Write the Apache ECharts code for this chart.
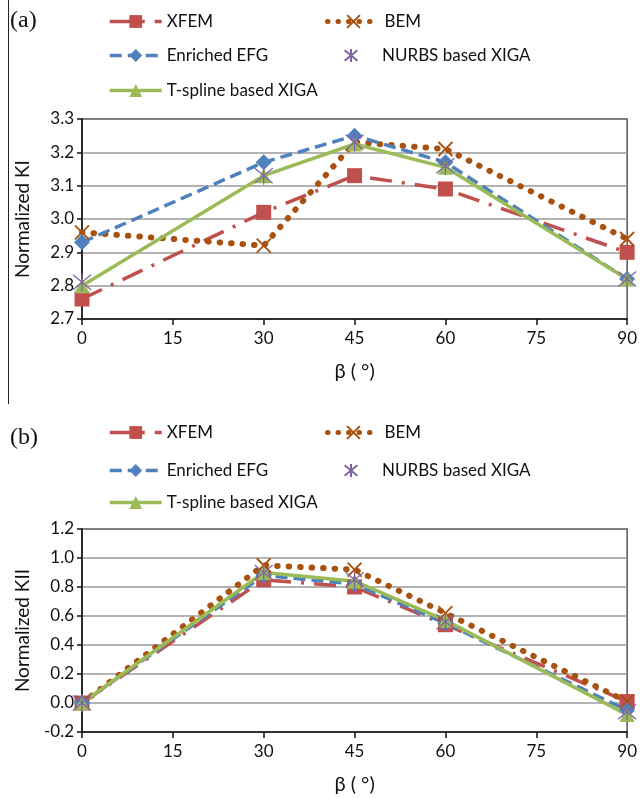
<!DOCTYPE html>
<html>
<head>
<meta charset="utf-8">
<script src="https://cdn.jsdelivr.net/npm/echarts@6/dist/echarts.min.js"></script>
<style>
  html, body { margin: 0; padding: 0; background: #fff; }
  #chart { width: 640px; height: 798px; }
</style>
</head>
<body>
<div id="chart"></div>
<script>
// crack inclination angle (degrees)
var beta = [0, 30, 45, 60, 90];

// (a) normalized KI
var kiXfem    = [2.76, 3.02, 3.13, 3.09, 2.90];
var kiBem     = [2.96, 2.92, 3.23, 3.21, 2.94];
var kiEfg     = [2.93, 3.17, 3.25, 3.17, 2.82];
var kiNurbs   = [2.81, 3.13, 3.23, 3.16, 2.82];
var kiTspline = [2.80, 3.13, 3.225, 3.155, 2.82];

// (b) normalized KII
var kiiXfem    = [0.00, 0.85, 0.80, 0.54, 0.01];
var kiiBem     = [0.00, 0.95, 0.92, 0.62, 0.01];
var kiiEfg     = [0.00, 0.88, 0.82, 0.55, -0.05];
var kiiNurbs   = [0.00, 0.90, 0.85, 0.56, -0.06];
var kiiTspline = [0.00, 0.90, 0.84, 0.57, -0.08];

var FONT = 'Lato';
var red = '#C0504D', brown = '#A9520F', blue = '#4F81BD', purple = '#8064A2', green = '#9BBB59';

var crossPath = 'path://M0,0L10,10M10,0L0,10';
var starPath = 'path://M0,1L10,11M10,1L0,11M5,0L5,12';

function pairs(ys) {
    return beta.map(function (b, i) { return [b, ys[i]]; });
}

function makeSeries(idx, d) {
    return [
        {
            name: 'XFEM', type: 'line', xAxisIndex: idx, yAxisIndex: idx,
            data: pairs(d[0]), symbol: 'rect', symbolSize: 15,
            itemStyle: { color: red },
            lineStyle: { color: red, width: 3.5, type: [22, 10, 3, 10] }
        },
        {
            name: 'BEM', type: 'line', xAxisIndex: idx, yAxisIndex: idx,
            data: pairs(d[1]), symbol: crossPath, symbolSize: 14,
            itemStyle: { color: brown, borderColor: brown, borderWidth: 1.8 },
            lineStyle: { color: brown, width: 6, type: [0.5, 11], cap: 'round' }
        },
        {
            name: 'Enriched EFG', type: 'line', xAxisIndex: idx, yAxisIndex: idx,
            data: pairs(d[2]), symbol: 'diamond', symbolSize: 16,
            itemStyle: { color: blue },
            lineStyle: { color: blue, width: 3.5, type: [12, 6] }
        },
        {
            name: 'T-spline based XIGA', type: 'line', xAxisIndex: idx, yAxisIndex: idx,
            data: pairs(d[4]), symbol: 'triangle', symbolSize: 15,
            itemStyle: { color: green },
            lineStyle: { color: green, width: 3.5 }
        },
        {
            name: 'NURBS based XIGA', type: 'line', xAxisIndex: idx, yAxisIndex: idx,
            data: pairs(d[3]), symbol: starPath, symbolSize: 18,
            itemStyle: { color: purple, borderColor: purple, borderWidth: 1.3 },
            lineStyle: { opacity: 0, width: 0 }
        }
    ];
}

function makeLegends(rowTops) {
    var spots = [
        ['XFEM', 108, rowTops[0]],
        ['BEM', 325, rowTops[0]],
        ['Enriched EFG', 108, rowTops[1]],
        ['NURBS based XIGA', 325, rowTops[1]],
        ['T-spline based XIGA', 108, rowTops[2]]
    ];
    return spots.map(function (s) {
        var lg = {
            data: [s[0]], left: s[1], top: s[2], padding: 0,
            itemWidth: 52, itemHeight: 16, itemGap: 0,
            textStyle: { fontFamily: FONT, fontSize: 17, color: '#111' }
        };
        if (s[0] === 'BEM') {
            lg.lineStyle = { width: 5, type: [0.5, 10], cap: 'round' };
        }
        if (s[0] !== 'NURBS based XIGA' && s[0] !== 'BEM') {
            lg.lineStyle = { width: 3.5 };
        }
        return lg;
    });
}

function xAxisFor(idx) {
    return {
        type: 'value', gridIndex: idx, min: 0, max: 90, interval: 15,
        name: 'β ( °)', nameLocation: 'middle', nameGap: 43,
        nameTextStyle: { fontFamily: FONT, fontSize: 20, color: '#111' },
        axisLine: { onZero: false, lineStyle: { color: '#111', width: 1.5 } },
        axisTick: { length: 6, lineStyle: { color: '#111', width: 1.5 } },
        axisLabel: { fontFamily: FONT, fontSize: 17, color: '#111', margin: 11 },
        splitLine: { show: false }
    };
}

function yAxisFor(idx, min, max, step, title) {
    return {
        type: 'value', gridIndex: idx, min: min, max: max, interval: step,
        name: title, nameLocation: 'middle', nameGap: 50,
        nameTextStyle: { fontFamily: FONT, fontSize: 19, color: '#111' },
        axisLine: { show: true, lineStyle: { color: '#111', width: 1.5 } },
        axisTick: { show: true, length: 5, lineStyle: { color: '#111', width: 1.5 } },
        axisLabel: {
            fontFamily: FONT, fontSize: 17, color: '#111', margin: 8,
            formatter: function (v) { return v.toFixed(1); }
        },
        splitLine: { show: true, showMaxLine: false, lineStyle: { color: '#9a9a9a', width: 1.5 } }
    };
}

var chart = echarts.init(document.getElementById('chart'));

var option = {
    animation: false,
    backgroundColor: '#fff',
    grid: [
        { left: 82, top: 119, width: 546, height: 200, show: true, borderColor: '#555', borderWidth: 1.5, backgroundColor: 'transparent' },
        { left: 82, top: 529, width: 546, height: 203, show: true, borderColor: '#555', borderWidth: 1.5, backgroundColor: 'transparent' }
    ],
    xAxis: [xAxisFor(0), xAxisFor(1)],
    yAxis: [
        yAxisFor(0, 2.7, 3.3, 0.1, 'Normalized KI'),
        yAxisFor(1, -0.2, 1.2, 0.2, 'Normalized KII')
    ],
    legend: makeLegends([13, 47, 82]).concat(makeLegends([424, 462, 494])),
    graphic: [
        { type: 'line', shape: { x1: 8.5, y1: 0, x2: 8.5, y2: 404 }, style: { stroke: '#222', lineWidth: 1 } },
        { type: 'text', left: 10, top: 9, style: { text: '(a)', font: '24px "Liberation Serif"', fill: '#111' } },
        { type: 'text', left: 10, top: 426, style: { text: '(b)', font: '24px "Liberation Serif"', fill: '#111' } }
    ],
    series: makeSeries(0, [kiXfem, kiBem, kiEfg, kiNurbs, kiTspline])
        .concat(makeSeries(1, [kiiXfem, kiiBem, kiiEfg, kiiNurbs, kiiTspline]))
};

chart.setOption(option);
</script>
</body>
</html>
